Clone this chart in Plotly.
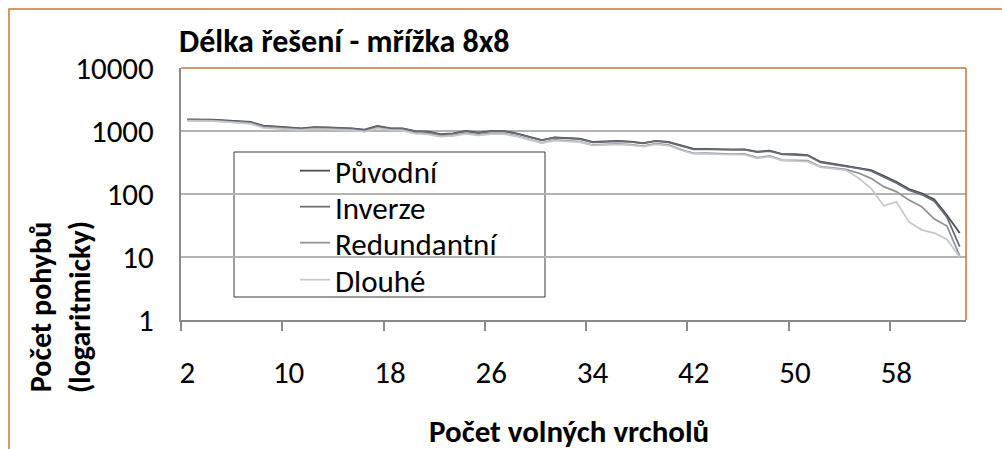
import plotly.graph_objects as go

categories = [str(c) for c in [2, 3, 4, 5, 6, 7, 8, 9, 10, 11, 12, 13, 14, 15, 16, 17, 18, 19, 20, 21,
                               22, 23, 24, 25, 26, 27, 28, 29, 30, 31, 32, 33, 34, 35, 36, 37, 38, 39, 40, 41,
                               42, 43, 44, 45, 46, 47, 48, 49, 50, 51, 52, 53, 54, 55, 56, 57, 58, 59, 60, 61,
                               62, 63]]

puvodni = [1530, 1530, 1520, 1470, 1425, 1390, 1215, 1190, 1140, 1105, 1155, 1145, 1125, 1105, 1050, 1200,
           1115, 1105, 1000, 975, 895, 920, 1000, 940, 1000, 1000, 920, 820, 720, 795, 775, 755, 670, 675,
           695, 680, 645, 700, 670, 590, 520, 520, 512, 508, 512, 470, 487, 431, 428, 416, 326, 303, 281,
           263, 240, 195, 157, 120, 103, 82, 46, 24]

inverze = [1500, 1500, 1490, 1450, 1400, 1370, 1190, 1170, 1120, 1090, 1130, 1130, 1110, 1090, 1030, 1180,
           1100, 1090, 985, 960, 880, 905, 985, 925, 985, 990, 905, 805, 710, 785, 765, 745, 660, 665,
           685, 670, 635, 690, 660, 580, 512, 512, 505, 500, 505, 462, 480, 425, 420, 408, 318, 296, 274,
           255, 232, 188, 150, 115, 98, 77, 43, 14.6]

redundantni = [1480, 1480, 1460, 1410, 1360, 1330, 1150, 1130, 1080, 1050, 1090, 1080, 1060, 1040, 990, 1120,
               1050, 1030, 930, 905, 830, 850, 920, 870, 915, 915, 840, 745, 650, 720, 700, 680, 600, 610,
               625, 610, 578, 630, 600, 507, 442, 445, 436, 430, 432, 377, 401, 346, 342, 339, 271, 259, 245,
               215, 177, 131, 109, 80, 63, 40, 31, 10.4]

dlouhe = [1450, 1450, 1440, 1390, 1340, 1300, 1120, 1100, 1060, 1030, 1070, 1060, 1040, 1020, 970, 1100,
          1030, 1010, 910, 885, 815, 835, 900, 850, 895, 895, 820, 730, 640, 705, 685, 665, 590, 598,
          612, 598, 566, 615, 588, 495, 432, 435, 426, 420, 422, 368, 392, 338, 334, 326, 268, 255, 240,
          179, 123, 65, 75, 36, 27, 24, 19, 10]

series_names = ["Původní", "Inverze", "Redundantní", "Dlouhé"]
series_values = [puvodni, inverze, redundantni, dlouhe]
series_colors = ["#474c55", "#676c75", "#8f9297", "#c6c8ca"]

y_tick_vals = [1, 10, 100, 1000, 10000]
y_tick_text = ["1", "10", "100", "1000", "10000"]

FONT = "Carlito, Calibri, Lato, sans-serif"
BROWN = "#c07a3e"
FS = 31

W, H = 1002, 449
L, R, T, B = 181, 36, 68, 129
pw, ph = W - L - R, H - T - B


def px(x):
    return (x - L) / pw


def py(y):
    return (H - B - y) / ph


legend_keys = ["legend", "legend2", "legend3", "legend4"]
legend_rows = [171, 207, 243, 280]

fig = go.Figure()
for name, vals, col, lk in zip(series_names, series_values, series_colors, legend_keys):
    fig.add_trace(go.Scatter(x=categories, y=vals, mode="lines", name=name, legend=lk,
                             line=dict(color=col, width=1.75)))

legend_layout = {}
for lk, row in zip(legend_keys, legend_rows):
    legend_layout[lk] = dict(x=px(295), y=py(row), xanchor="left", yanchor="middle",
                             bgcolor="rgba(0,0,0,0)", borderwidth=0,
                             font=dict(family=FONT, size=FS, color="black"))

fig.update_layout(
    width=W, height=H,
    margin=dict(l=L, r=R, t=T, b=B, pad=0),
    paper_bgcolor="white", plot_bgcolor="white",
    font=dict(family=FONT, size=FS, color="black"),
    showlegend=True,
    xaxis=dict(type="category", range=[-0.5, 61.5], tickmode="linear", tick0=0, dtick=8,
               tickson="boundaries", ticks="outside", ticklen=9, tickwidth=2, tickcolor="#8a8a8a",
               showline=True, linecolor="#8a8a8a", linewidth=2, showgrid=False, zeroline=False,
               tickangle=0, automargin=False, ticklabelstandoff=24,
               tickfont=dict(family=FONT, size=FS, color="black")),
    yaxis=dict(type="log", range=[0, 4], tickmode="array", tickvals=y_tick_vals, ticktext=y_tick_text,
               showline=True, linecolor="#8a8a8a", linewidth=2, showgrid=True, gridcolor="#b4b4b4",
               gridwidth=1.5, zeroline=False, ticks="", ticklabelstandoff=19, automargin=False,
               tickfont=dict(family=FONT, size=FS, color="black")),
    shapes=[
        dict(type="rect", xref="paper", yref="paper", x0=px(9), x1=px(1010), y0=py(9), y1=py(470),
             line=dict(color=BROWN, width=1.5), fillcolor="rgba(0,0,0,0)", layer="below"),
        dict(type="line", xref="paper", yref="paper", x0=0, x1=1, y0=1, y1=1,
             line=dict(color=BROWN, width=1.5)),
        dict(type="line", xref="paper", yref="paper", x0=1, x1=1, y0=0, y1=1,
             line=dict(color=BROWN, width=1.5)),
        dict(type="rect", xref="paper", yref="paper", x0=px(234), x1=px(545), y0=py(297), y1=py(152),
             line=dict(color="#3a3a3a", width=1), fillcolor="white", layer="between"),
    ],
    annotations=[
        dict(text="<b>Délka řešení - mřížka 8x8</b>", xref="paper", yref="paper",
             x=px(177), y=py(42), xanchor="left", yanchor="middle", showarrow=False,
             font=dict(family=FONT, size=32, color="black")),
        dict(text="<b>Počet pohybů<br>(logaritmicky)</b>", xref="paper", yref="paper",
             x=px(60), y=py(307), xanchor="center", yanchor="middle", showarrow=False, textangle=-90,
             font=dict(family=FONT, size=30, color="black")),
        dict(text="<b>Počet volných vrcholů</b>", xref="paper", yref="paper",
             x=px(569), y=py(431), xanchor="center", yanchor="middle", showarrow=False,
             font=dict(family=FONT, size=31, color="black")),
    ],
    **legend_layout,
)

fig.write_html("out.html", config={"displayModeBar": False},
               post_script="document.body.style.margin='0';document.body.style.overflow='hidden';")
